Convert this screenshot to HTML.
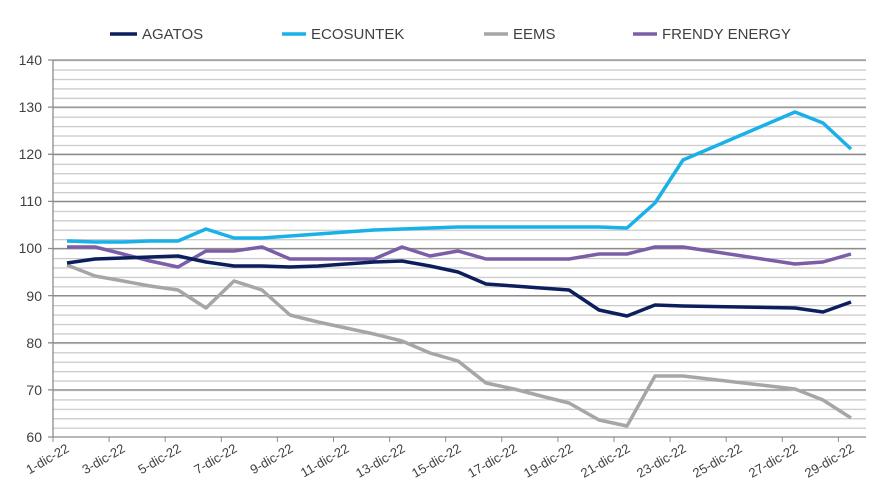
<!DOCTYPE html>
<html><head><style>body{margin:0;background:#fff}svg{display:block}text{font-family:"Liberation Sans",sans-serif;fill:#404040}</style></head><body>
<svg width="891" height="500" xmlns="http://www.w3.org/2000/svg">
<defs>
<pattern id="mg" x="0" y="60" width="20" height="9.425" patternUnits="userSpaceOnUse">
<line x1="0" x2="20" y1="0.6" y2="0.6" stroke="#c8c8c8" stroke-width="1.2"/>
</pattern>
</defs>
<rect x="53" y="59.5" width="813" height="378" fill="url(#mg)"/>
<g stroke="#8c8c8c" stroke-width="1.3">
<line x1="48" x2="866" y1="60" y2="60"/>
<line x1="48" x2="866" y1="107.1" y2="107.1"/>
<line x1="48" x2="866" y1="154.3" y2="154.3"/>
<line x1="48" x2="866" y1="201.4" y2="201.4"/>
<line x1="48" x2="866" y1="248.5" y2="248.5"/>
<line x1="48" x2="866" y1="295.6" y2="295.6"/>
<line x1="48" x2="866" y1="342.8" y2="342.8"/>
<line x1="48" x2="866" y1="389.9" y2="389.9"/>
<line x1="48" x2="866" y1="437" y2="437"/>
<line x1="53" x2="53" y1="60" y2="437"/>
</g>
<g stroke="#8c8c8c">
<line x1="53" x2="53" y1="437" y2="442"/><line x1="109.1" x2="109.1" y1="437" y2="442"/><line x1="165.2" x2="165.2" y1="437" y2="442"/><line x1="221.3" x2="221.3" y1="437" y2="442"/><line x1="277.4" x2="277.4" y1="437" y2="442"/><line x1="333.5" x2="333.5" y1="437" y2="442"/><line x1="389.6" x2="389.6" y1="437" y2="442"/><line x1="445.7" x2="445.7" y1="437" y2="442"/><line x1="501.8" x2="501.8" y1="437" y2="442"/><line x1="557.9" x2="557.9" y1="437" y2="442"/><line x1="614" x2="614" y1="437" y2="442"/><line x1="670.1" x2="670.1" y1="437" y2="442"/><line x1="726.2" x2="726.2" y1="437" y2="442"/><line x1="782.3" x2="782.3" y1="437" y2="442"/><line x1="838.4" x2="838.4" y1="437" y2="442"/>
</g>
<g font-size="14" text-anchor="end">
<text x="42" y="65">140</text><text x="42" y="112">130</text><text x="42" y="159">120</text><text x="42" y="206">110</text><text x="42" y="253">100</text><text x="42" y="301">90</text><text x="42" y="348">80</text><text x="42" y="395">70</text><text x="42" y="442">60</text>
</g>
<g font-size="13" text-anchor="end">
<text transform="translate(70,451) rotate(-30)">1-dic-22</text>
<text transform="translate(126,451) rotate(-30)">3-dic-22</text>
<text transform="translate(182,451) rotate(-30)">5-dic-22</text>
<text transform="translate(238,451) rotate(-30)">7-dic-22</text>
<text transform="translate(294,451) rotate(-30)">9-dic-22</text>
<text transform="translate(350,451) rotate(-30)">11-dic-22</text>
<text transform="translate(406,451) rotate(-30)">13-dic-22</text>
<text transform="translate(462,451) rotate(-30)">15-dic-22</text>
<text transform="translate(518,451) rotate(-30)">17-dic-22</text>
<text transform="translate(574,451) rotate(-30)">19-dic-22</text>
<text transform="translate(631,451) rotate(-30)">21-dic-22</text>
<text transform="translate(687,451) rotate(-30)">23-dic-22</text>
<text transform="translate(743,451) rotate(-30)">25-dic-22</text>
<text transform="translate(799,451) rotate(-30)">27-dic-22</text>
<text transform="translate(855,451) rotate(-30)">29-dic-22</text>
</g>
<g fill="none" stroke-width="3.5" stroke-linejoin="round">
<polyline stroke="#a6a6a6" points="67,265 95,276 123,281 150,286 178,290 206,308 234,281 262,290 290,315 318,322 346,328 374,334 402,341 430,353 458,361 486,383 514,389 541,396 569,403 599,420 627,426 655,376 683,376 795,389 823,400 851,418"/>
<polyline stroke="#7b5ea7" points="67,247 95,247 123,254 150,261 178,267 206,251 234,251 262,247 290,259 318,259 346,259 374,259 402,247 430,256 458,251 486,259 514,259 541,259 569,259 599,254 627,254 655,247 683,247 795,264 823,262 851,254"/>
<polyline stroke="#1ab0e8" points="67,241 95,242 123,242 150,241 178,241 206,229 234,238 262,238 290,236 346,232 374,230 402,229 458,227 599,227 627,228 655,203 683,160 795,112 823,123 851,149"/>
<polyline stroke="#0c1f5c" points="67,263 95,259 123,258 150,257 178,256 206,262 234,266 262,266 290,267 318,266 346,264 374,262 402,261 430,266 458,272 486,284 514,286 541,288 569,290 599,310 627,316 655,305 683,306 795,308 823,312 851,302"/>
</g>
<g stroke-width="3.5">
<line x1="110" x2="137" y1="34" y2="34" stroke="#0c1f5c"/>
<line x1="282" x2="306" y1="34" y2="34" stroke="#1ab0e8"/>
<line x1="484" x2="508" y1="34" y2="34" stroke="#a6a6a6"/>
<line x1="633" x2="657" y1="34" y2="34" stroke="#7b5ea7"/>
</g>
<g font-size="15">
<text x="142" y="39">AGATOS</text>
<text x="311" y="39">ECOSUNTEK</text>
<text x="513" y="39">EEMS</text>
<text x="662" y="39">FRENDY ENERGY</text>
</g>
</svg>
</body></html>
